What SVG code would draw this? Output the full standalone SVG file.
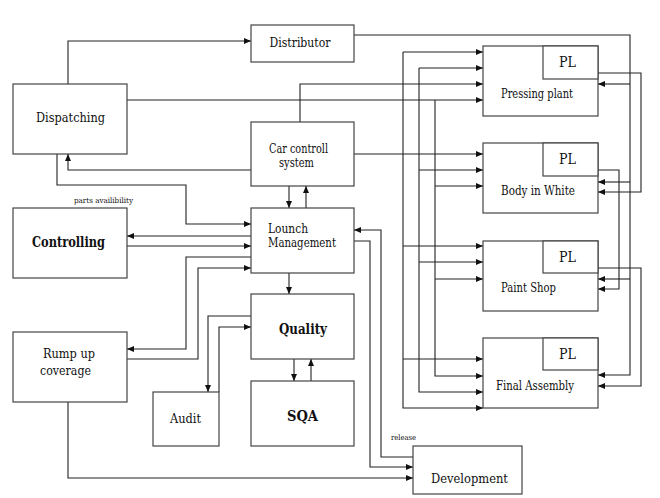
<svg xmlns="http://www.w3.org/2000/svg" width="660" height="498" viewBox="0 0 660 498">
<style>
.box{fill:#fff;stroke:#444;stroke-width:1.2}
.c{fill:none;stroke:#222;stroke-width:1.1}
.a{marker-end:url(#arr)}
text{font-family:'DejaVu Serif','Liberation Serif',serif;fill:#111;font-size:12.5px}
.b{font-size:14.5px;font-weight:bold}
.pl{font-size:14px}
.s{font-size:7.5px}
</style>
<defs>
<marker id="arr" markerWidth="7" markerHeight="6" refX="7" refY="3" orient="auto" markerUnits="userSpaceOnUse">
<path d="M0,0 L7,3 L0,6 z" fill="#111"/>
</marker>
</defs>
<rect width="660" height="498" fill="#fff"/>
<g id="connectors">
<path class="c a" d="M68,84 V41 H251"/>
<path class="c a" d="M127,100 H483"/>
<path class="c a" d="M435,100 V376 H483"/>
<path class="c a" d="M435,186 H483"/>
<path class="c a" d="M435,279 H483"/>
<path class="c a" d="M300,122 V84 H483"/>
<path class="c a" d="M354,154 H483"/>
<path class="c a" d="M251,170 H68 V154"/>
<path class="c a" d="M57,154 V185 H186 V224 H251"/>
<path class="c a" d="M289,186 V208"/>
<path class="c a" d="M306,208 V186"/>
<path class="c a" d="M251,236 H127"/>
<path class="c a" d="M127,246 H251"/>
<path class="c a" d="M251,257 H186 V349 H127"/>
<path class="c a" d="M127,359 H198 V268 H251"/>
<path class="c a" d="M289,273 V294"/>
<path class="c a" d="M251,316 H208 V392"/>
<path class="c a" d="M219,392 V327 H251"/>
<path class="c a" d="M294,359 V381"/>
<path class="c a" d="M311,381 V359"/>
<path class="c a" d="M68,402 V478 H413"/>
<path class="c a" d="M354,241 H370 V467 H413"/>
<path class="c a" d="M413,457 H381 V230 H354"/>
<path class="c a" d="M354,35 H630 V375 H598"/>
<path class="c a" d="M630,84 H598"/>
<path class="c a" d="M630,182 H598"/>
<path class="c a" d="M630,279 H598"/>
<path class="c a" d="M598,73 H641 V192 H598"/>
<path class="c a" d="M598,170 H619 V289 H598"/>
<path class="c a" d="M598,268 H641 V386 H598"/>
<path class="c a" d="M403,52 H483"/>
<path class="c a" d="M403,52 V408 H483"/>
<path class="c a" d="M403,246 H483"/>
<path class="c a" d="M403,359 H483"/>
<path class="c a" d="M419,68 H483"/>
<path class="c a" d="M419,68 V392 H483"/>
<path class="c a" d="M419,170 H483"/>
<path class="c a" d="M419,262 H483"/>
</g>
<g id="distributor"><rect class="box" x="251" y="25" width="103" height="37"/><text x="269.5" y="47" textLength="61" lengthAdjust="spacingAndGlyphs">Distributor</text></g>
<g id="dispatching"><rect class="box" x="13" y="84" width="114" height="70"/><text x="36" y="122" textLength="69" lengthAdjust="spacingAndGlyphs">Dispatching</text></g>
<g id="car-control"><rect class="box" x="251" y="122" width="103" height="64"/><text x="269" y="153" textLength="59" lengthAdjust="spacingAndGlyphs">Car controll</text><text x="279" y="167" textLength="35" lengthAdjust="spacingAndGlyphs">system</text></g>
<g id="launch"><rect class="box" x="251" y="208" width="103" height="65"/><text x="268" y="233" textLength="40" lengthAdjust="spacingAndGlyphs">Lounch</text><text x="268" y="247" textLength="68" lengthAdjust="spacingAndGlyphs">Management</text></g>
<g id="controlling"><rect class="box" x="13" y="208" width="114" height="70"/><text class="b" x="32" y="247" textLength="73" lengthAdjust="spacingAndGlyphs">Controlling</text><text class="s" x="74" y="203" textLength="59" lengthAdjust="spacingAndGlyphs">parts availibility</text></g>
<g id="quality"><rect class="box" x="251" y="294" width="103" height="65"/><text class="b" x="279" y="334" textLength="48" lengthAdjust="spacingAndGlyphs">Quality</text></g>
<g id="sqa"><rect class="box" x="251" y="381" width="103" height="65"/><text class="b" x="287" y="421" textLength="31" lengthAdjust="spacingAndGlyphs">SQA</text></g>
<g id="audit"><rect class="box" x="153" y="392" width="66" height="54"/><text x="170" y="423" textLength="31" lengthAdjust="spacingAndGlyphs">Audit</text></g>
<g id="rump"><rect class="box" x="13" y="332" width="114" height="70"/><text x="43" y="358" textLength="52" lengthAdjust="spacingAndGlyphs">Rump up</text><text x="40" y="375" textLength="51" lengthAdjust="spacingAndGlyphs">coverage</text></g>
<g id="development"><rect class="box" x="413" y="446" width="109" height="48"/><text x="431" y="483" textLength="77" lengthAdjust="spacingAndGlyphs">Development</text><text class="s" x="391" y="440" textLength="25" lengthAdjust="spacingAndGlyphs">release</text></g>
<g id="pressing"><rect class="box" x="483" y="46" width="115" height="70"/><rect class="box" x="543" y="46" width="55" height="33"/><text class="pl" x="559" y="67" textLength="17" lengthAdjust="spacingAndGlyphs">PL</text><text x="501" y="98" textLength="72" lengthAdjust="spacingAndGlyphs">Pressing plant</text></g>
<g id="biw"><rect class="box" x="483" y="143" width="115" height="70"/><rect class="box" x="543" y="143" width="55" height="33"/><text class="pl" x="559" y="164" textLength="17" lengthAdjust="spacingAndGlyphs">PL</text><text x="501" y="195" textLength="74" lengthAdjust="spacingAndGlyphs">Body in White</text></g>
<g id="paint"><rect class="box" x="483" y="241" width="115" height="70"/><rect class="box" x="543" y="241" width="55" height="32"/><text class="pl" x="559" y="262" textLength="17" lengthAdjust="spacingAndGlyphs">PL</text><text x="501" y="292" textLength="55" lengthAdjust="spacingAndGlyphs">Paint Shop</text></g>
<g id="final"><rect class="box" x="483" y="338" width="115" height="70"/><rect class="box" x="543" y="338" width="55" height="32"/><text class="pl" x="559" y="359" textLength="17" lengthAdjust="spacingAndGlyphs">PL</text><text x="496" y="390" textLength="78" lengthAdjust="spacingAndGlyphs">Final Assembly</text></g>
</svg>
